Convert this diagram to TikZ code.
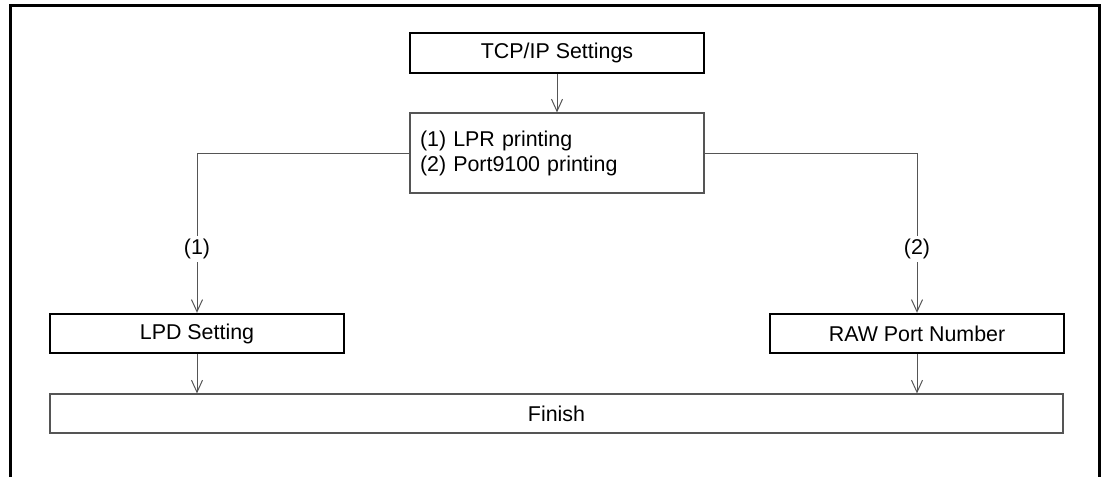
\documentclass[tikz,border=0pt]{standalone}
\usepackage{fontspec}
\setmainfont{Liberation Sans}
\definecolor{FLine}{HTML}{555555}
\usetikzlibrary{arrows.meta,positioning}

\begin{document}
\begin{tikzpicture}[x=0.5pt,y=-0.5pt,
    font=\fontsize{10.7}{12.5}\selectfont,
    thickbox/.style={draw=black,line width=1.2pt,fill=white,inner sep=0pt,
                     minimum width=147pt,minimum height=19.5pt},
    thinbox/.style={draw=FLine,line width=0.6pt,fill=white,inner sep=0pt},
    link/.style={draw=FLine,line width=0.5pt,-{Straight Barb[length=6pt,width=5.5pt]}},
    branch/.style={fill=white,inner sep=1.5pt}]
    \useasboundingbox (0,0) rectangle (1103,477);
    % outer frame (open at the bottom)
    \draw[line width=1.5pt] (10,477) -- (10,5) -- (1099,5) -- (1099,477);
    % steps
    \node[thickbox,minimum height=20pt] (tcp) at (557,53) {TCP/IP Settings};
    \node[thinbox,minimum width=147pt,minimum height=40pt,text width=137pt,align=left]
      (modes) at (557,153) {(1) LPR printing\\(2) Port9100 printing};
    \node[thickbox] (lpd) at (197,333.5) {LPD Setting};
    \node[thickbox] (raw) at (917,333.5) {RAW Port Number};
    \node[thinbox,minimum width=506.5pt,minimum height=19.5pt] (finish) at (556.5,413.5) {Finish};
    % connectors
    \draw[link] (tcp.south) -- (modes.north);
    \draw[link] (modes.west) -| (lpd.north) node[branch,pos=0.8] {(1)};
    \draw[link] (modes.east) -| (raw.north) node[branch,pos=0.8] {(2)};
    \draw[link] (lpd.south) -- (lpd.south |- finish.north);
    \draw[link] (raw.south) -- (raw.south |- finish.north);
\end{tikzpicture}
\end{document}
